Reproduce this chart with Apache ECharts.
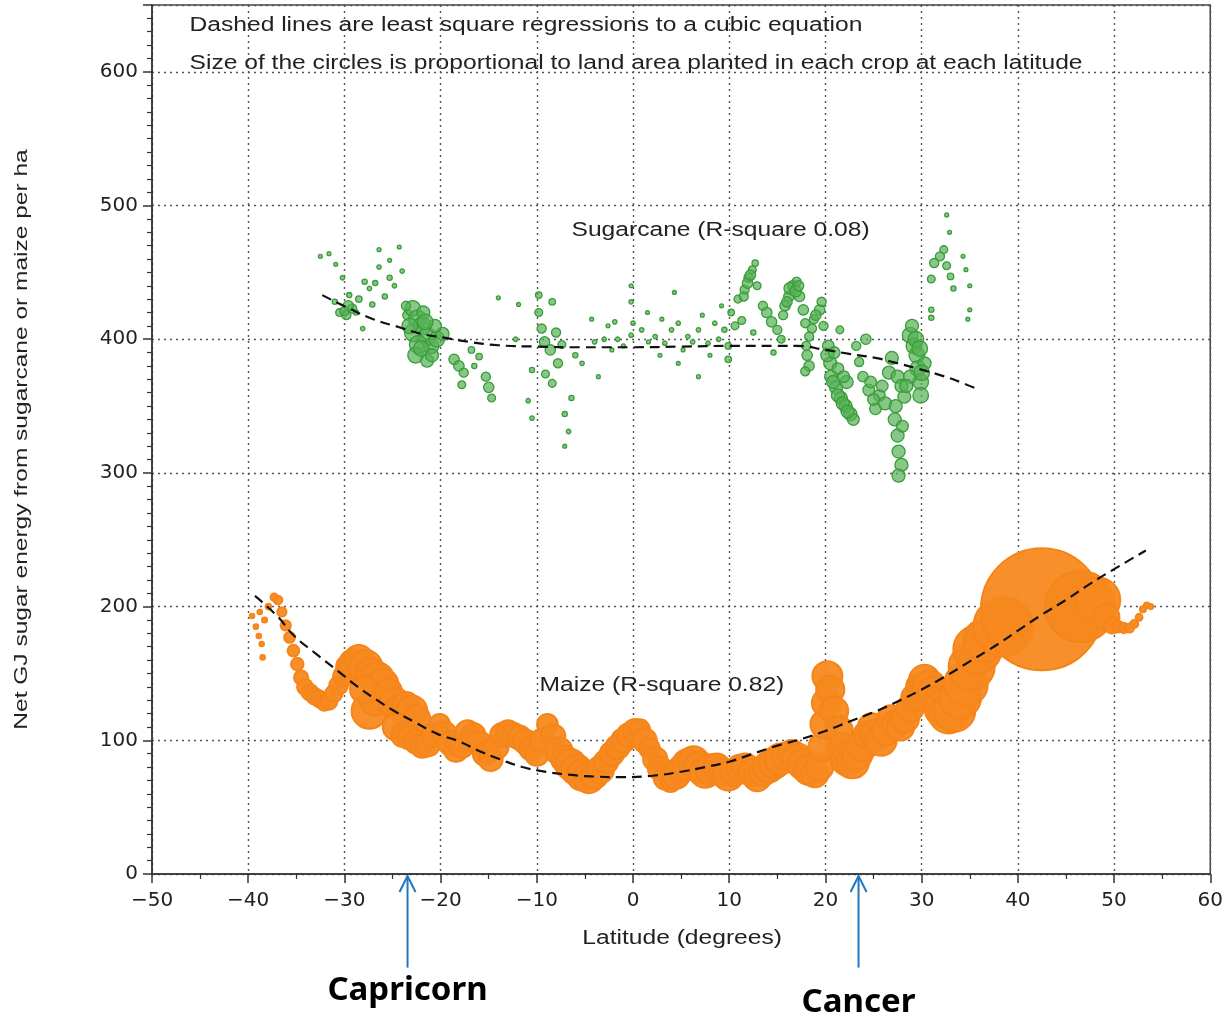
<!DOCTYPE html>
<html>
<head>
<meta charset="utf-8">
<script src="https://cdn.jsdelivr.net/npm/echarts@6/dist/echarts.min.js"></script>
<style>
  html, body { margin: 0; padding: 0; background: #fff; }
  #chart { width: 1226px; height: 1022px; }
</style>
</head>
<body>
<div id="chart"></div>
<script>
// [latitude, net GJ per ha, land area planted]
const sugarcanePoints = [
  [-32.5, 462, 9], [-31.6, 464, 9], [-30.9, 456, 9], [-30.2, 446, 12], [-29.5, 433, 16],
  [-28.8, 420, 16], [-27.4, 438, 12], [-26.4, 467, 9], [-26.4, 454, 12], [-25.3, 459, 9],
  [-24.3, 469, 9], [-24.0, 451, 12], [-25.3, 446, 16], [-27.1, 426, 16], [-28.1, 408, 12],
  [-31.0, 428, 16], [-30.5, 420, 36], [-29.8, 418, 49], [-29.2, 423, 49], [-28.5, 430, 25],
  [-27.9, 443, 16], [-26.8, 442, 16], [-25.8, 432, 16], [-24.8, 440, 12], [-29.6, 425, 64],
  [-30.0, 421, 49],
  [-23.4, 418, 64], [-22.9, 423, 144], [-22.4, 415, 196], [-22.8, 405, 196], [-21.9, 410, 196],
  [-21.4, 402, 196], [-22.3, 396, 196], [-21.0, 395, 144], [-22.6, 388, 144], [-21.4, 384, 100],
  [-20.4, 400, 144], [-19.8, 404, 100], [-20.6, 410, 100], [-21.8, 420, 100], [-23.2, 410, 144],
  [-22.0, 393, 144], [-21.6, 413, 144], [-20.9, 388, 100], [-23.6, 425, 49],
  [-18.6, 385, 64], [-18.1, 380, 64], [-17.6, 375, 49], [-17.8, 366, 36], [-16.8, 392, 25],
  [-16.0, 387, 25], [-15.3, 372, 49], [-15.0, 364, 64], [-14.7, 356, 36], [-16.5, 380, 16],
  [-14.0, 431, 9], [-11.9, 426, 9], [-12.2, 400, 12], [-10.5, 377, 16], [-9.8, 433, 25],
  [-9.8, 420, 36], [-9.5, 408, 49], [-9.2, 398, 64], [-8.6, 392, 64], [-8.4, 428, 25],
  [-7.8, 382, 49], [-9.1, 374, 36], [-8.4, 367, 36], [-6.4, 356, 16], [-7.1, 344, 16],
  [-6.7, 331, 12], [-7.1, 320, 9], [-10.5, 341, 12], [-10.9, 354, 12], [-8.0, 405, 49],
  [-7.4, 396, 36], [-6.0, 388, 16],
  [-5.3, 382, 12], [-4.3, 415, 9], [-3.6, 372, 9], [-1.9, 413, 12], [-0.2, 428, 12],
  [-0.2, 440, 9], [-0.2, 403, 12], [-1.6, 400, 12], [-2.2, 392, 9], [-2.6, 410, 9],
  [-3.0, 400, 12], [-4.0, 398, 12], [-1.0, 395, 9], [0.0, 412, 12],
  [0.9, 407, 12], [1.6, 398, 9], [2.3, 402, 12], [3.3, 397, 12], [4.0, 407, 12],
  [4.7, 412, 12], [5.7, 402, 12], [6.8, 407, 12], [7.8, 397, 12], [8.5, 412, 12],
  [9.5, 407, 16], [4.3, 435, 9], [6.8, 372, 9], [4.7, 382, 9], [9.2, 425, 9],
  [3.0, 415, 9], [5.2, 392, 9], [7.2, 418, 9], [8.0, 388, 9], [1.5, 420, 9],
  [2.8, 388, 9], [6.2, 398, 12], [8.9, 400, 12],
  [9.9, 395, 25], [10.2, 420, 25], [9.9, 385, 25], [10.6, 410, 36], [10.9, 430, 36],
  [11.6, 437, 49], [12.0, 446, 49], [12.4, 452, 36], [12.7, 457, 25], [11.3, 414, 36],
  [11.9, 442, 64], [12.2, 448, 64], [11.5, 432, 49], [12.9, 440, 36],
  [13.5, 425, 49], [13.9, 420, 64], [14.4, 413, 64], [15.0, 407, 49], [15.4, 400, 36],
  [15.8, 425, 64], [16.2, 432, 64], [16.6, 440, 64], [17.0, 443, 49], [17.3, 432, 64],
  [16.3, 438, 81], [16.9, 436, 81], [17.2, 440, 64], [16.0, 428, 64], [15.6, 418, 49],
  [17.7, 422, 64], [17.9, 412, 49], [18.6, 408, 49], [18.8, 415, 49], [19.4, 422, 64],
  [19.8, 410, 49], [18.1, 388, 64], [18.3, 380, 64], [14.6, 390, 16], [12.5, 405, 16],
  [18.3, 402, 49], [19.0, 418, 64], [19.6, 428, 49], [18.0, 395, 49], [17.9, 376, 49],
  [20.3, 395, 81], [20.5, 382, 100], [20.6, 372, 100], [21.1, 364, 100], [21.6, 356, 100],
  [22.1, 350, 100], [22.6, 344, 100], [22.9, 340, 81], [22.2, 368, 100], [21.3, 378, 81],
  [20.2, 388, 100], [20.8, 368, 100], [21.3, 358, 100], [21.8, 352, 100], [22.3, 346, 100],
  [20.9, 390, 81], [21.9, 372, 81],
  [21.5, 407, 36], [23.5, 383, 49], [24.2, 400, 64], [23.9, 372, 64], [24.5, 362, 81],
  [25.2, 348, 81], [25.6, 358, 81], [26.2, 352, 100], [26.6, 375, 100], [26.9, 386, 100],
  [23.2, 395, 49], [24.7, 368, 81], [25.0, 355, 81], [25.9, 365, 81],
  [27.5, 372, 100], [27.9, 365, 100], [28.2, 357, 100], [27.2, 340, 100], [27.5, 328, 100],
  [27.6, 316, 100], [27.9, 306, 100], [27.6, 298, 100], [28.8, 403, 144], [29.2, 395, 144],
  [29.5, 388, 144], [29.6, 378, 144], [29.9, 368, 144], [29.9, 358, 144], [28.8, 372, 100],
  [30.3, 382, 100], [29.0, 410, 100], [27.3, 350, 100], [28.0, 335, 81], [28.4, 365, 100],
  [29.4, 400, 144], [29.8, 393, 144], [30.0, 375, 144],
  [31.0, 445, 36], [31.3, 457, 49], [31.9, 462, 49], [32.3, 467, 36], [32.6, 455, 36],
  [33.0, 447, 25], [33.3, 438, 16], [31.0, 422, 16], [31.0, 416, 16], [32.6, 493, 9],
  [32.9, 480, 9], [34.3, 462, 9], [34.6, 452, 9], [35.0, 422, 9], [34.8, 415, 9], [35.0, 440, 9]
]

const maizePoints = [
  [-39.6, 193, 4], [-39.2, 185, 4], [-38.9, 178, 4], [-38.6, 172, 4], [-38.8, 196, 4],
  [-38.3, 190, 5], [-38.5, 162, 4], [-37.9, 200, 6], [-37.3, 207, 10], [-36.9, 205, 14],
  [-36.5, 196, 16], [-36.1, 186, 20], [-35.7, 177, 22], [-35.3, 167, 26], [-34.9, 157, 30],
  [-34.5, 147, 38], [-34.1, 140, 48], [-33.6, 136, 52], [-33.1, 133, 52], [-32.6, 131, 52],
  [-32.1, 128, 46], [-31.6, 129, 52], [-31.1, 135, 56], [-30.6, 141, 66], [-30.1, 148, 80],
  [-29.6, 155, 110], [-29.1, 158, 140], [-28.5, 160, 170], [-27.8, 155, 210], [-27.2, 150, 180],
  [-26.6, 146, 210], [-26.0, 142, 180], [-27.4, 122, 240], [-26.8, 130, 180], [-28.0, 138, 140],
  [-25.4, 136, 140], [-24.8, 128, 180], [-24.2, 124, 140], [-23.6, 126, 140], [-23.0, 122, 180],
  [-22.5, 116, 140], [-24.6, 110, 140], [-23.9, 104, 110], [-23.2, 102, 110], [-22.5, 99, 110],
  [-21.9, 96, 110], [-21.3, 97, 110], [-20.7, 104, 110], [-20.1, 112, 80], [-19.6, 105, 110],
  [-19.0, 98, 110], [-18.4, 93, 110], [-17.8, 96, 110], [-17.2, 106, 110], [-16.6, 104, 110],
  [-16.0, 98, 110], [-15.4, 90, 110], [-14.8, 86, 110], [-14.2, 95, 110], [-13.6, 104, 110],
  [-13.0, 106, 110], [-12.4, 104, 110], [-11.8, 102, 110], [-11.2, 99, 110], [-10.6, 94, 110],
  [-10.0, 90, 110], [-9.4, 100, 110], [-8.9, 112, 80], [-8.3, 103, 110], [-7.7, 92, 140],
  [-7.1, 86, 140], [-6.5, 82, 180], [-5.9, 78, 180], [-5.3, 74, 180], [-4.6, 72, 180],
  [-4.0, 74, 140], [-3.4, 78, 140], [-2.8, 84, 110], [-2.2, 90, 110], [-1.6, 95, 110],
  [-1.0, 100, 110], [-0.4, 104, 110], [0.2, 107, 110], [0.7, 108, 80], [1.2, 100, 110],
  [1.7, 94, 80], [2.3, 86, 110], [2.8, 79, 110], [3.4, 72, 110], [3.9, 69, 80],
  [4.5, 74, 140], [5.1, 79, 140], [5.7, 82, 180], [6.3, 84, 180], [6.9, 80, 180],
  [7.5, 76, 180], [8.1, 78, 180], [8.7, 80, 140], [9.3, 76, 140], [9.9, 74, 180],
  [10.5, 76, 140], [11.1, 79, 140], [11.7, 80, 140], [12.3, 76, 140], [12.9, 72, 140],
  [13.5, 76, 140], [14.1, 80, 180], [14.7, 83, 180], [15.3, 86, 180], [15.9, 88, 140],
  [16.5, 90, 140], [17.1, 86, 180], [17.7, 82, 180], [18.3, 78, 180], [18.9, 75, 140],
  [19.4, 80, 140], [19.7, 95, 150], [19.9, 112, 150], [20.1, 128, 160], [20.2, 148, 170],
  [20.5, 138, 150], [20.9, 122, 150], [21.4, 108, 140], [21.8, 94, 180], [22.3, 86, 210],
  [22.8, 84, 210], [23.3, 90, 180], [23.8, 96, 180], [24.3, 104, 140], [24.8, 110, 140],
  [25.3, 104, 180], [25.8, 100, 180], [26.3, 106, 140], [26.8, 116, 140], [27.3, 112, 140],
  [27.8, 110, 140], [28.3, 116, 140], [28.8, 124, 140], [29.3, 132, 140], [29.8, 140, 140],
  [30.3, 145, 180], [30.8, 140, 210], [31.3, 135, 210], [31.8, 128, 210], [32.3, 124, 280],
  [32.8, 120, 300], [33.4, 122, 330], [34.0, 132, 330], [34.6, 142, 360], [35.2, 155, 400],
  [35.8, 168, 440], [36.6, 175, 350], [38.5, 185, 680], [42.5, 198, 2813], [46.5, 200, 953],
  [48.3, 205, 383], [49.2, 192, 130], [49.8, 186, 50], [50.4, 185, 26],
  [51.0, 184, 20], [51.6, 184, 16], [52.1, 187, 12], [52.6, 192, 9], [53.0, 198, 7],
  [53.4, 201, 6], [53.8, 200, 5]
]

// cubic least-squares curves as drawn on the original
const sugarcaneFit = [
  [-32.3, 433], [-29.5, 423], [-27, 415], [-24.3, 409], [-22, 404], [-19.5, 401], [-17, 398],
  [-14, 395.5], [-10, 394.5], [-5.5, 394], [0, 394], [5, 394.5], [10, 395], [15, 395],
  [17, 395], [20, 392], [22.5, 389], [25.2, 386], [27.5, 382], [29.6, 378], [32, 373],
  [34, 368], [36, 362]
]

const maizeFit = [
  [-39.3, 208], [-37, 193], [-35.2, 178], [-33, 165], [-30.7, 152], [-28.6, 140], [-26.6, 130],
  [-24.6, 121], [-22.8, 114], [-20.4, 105], [-18, 99], [-16, 92], [-13.9, 86], [-11.5, 80],
  [-9.5, 77], [-7, 74.5], [-4.3, 73], [-1, 72.5], [2, 73.5], [5, 76.5], [7.5, 80], [10, 84],
  [12.5, 90], [15, 96], [17.5, 101], [20, 107], [22.5, 114], [25, 121], [27.5, 129], [30, 138],
  [32.5, 148], [35, 159], [37.5, 170], [40, 182], [42.5, 194], [45, 205], [47.5, 217],
  [50, 228], [53.3, 242]
]

const notes = [
  'Dashed lines are least square regressions to a cubic equation',
  'Size of the circles is proportional to land area planted in each crop at each latitude'
]
const tropics = [
  { name: 'Capricorn', lat: -23.44 },
  { name: 'Cancer', lat: 23.44 }
]

const FONT = 'DejaVu Sans'
const TEXT_FONT = '"Liberation Sans"'
const TEXT = '#222'
const WIDE = 1.23

const chart = echarts.init(document.getElementById('chart'))

const minus = (v) => (v < 0 ? '\u2212' + Math.abs(v) : String(v))

chart.setOption({
  animation: false,
  textStyle: { fontFamily: FONT, color: TEXT },
  grid: {
    left: 152, right: 13, top: 5, bottom: 148,
    show: true, borderColor: '#444', borderWidth: 1.5
  },
  xAxis: {
    type: 'value', min: -50, max: 60, interval: 10,
    axisLine: { lineStyle: { color: '#333', width: 1.5 } },
    axisTick: { length: 9, lineStyle: { color: '#333', width: 1.5 } },
    minorTick: { show: true, splitNumber: 2, length: 5, lineStyle: { color: '#333', width: 1.2 } },
    axisLabel: { fontSize: 20, color: TEXT, margin: 17, formatter: minus, fontFamily: FONT },
    splitLine: { show: true, lineStyle: { color: '#555', width: 1.4, type: [2, 4] } }
  },
  yAxis: {
    type: 'value', min: 0, max: 650, interval: 100,
    axisLine: { show: true, onZero: false, lineStyle: { color: '#333', width: 1.5 } },
    axisTick: { length: 9, lineStyle: { color: '#333', width: 1.5 } },
    minorTick: { show: true, splitNumber: 10, length: 5, lineStyle: { color: '#333', width: 1.2 } },
    axisLabel: {
      fontSize: 20, color: TEXT, margin: 14, fontFamily: FONT, showMaxLabel: false,
      formatter: (v) => (v > 600 ? '' : String(v))
    },
    splitLine: { show: true, lineStyle: { color: '#555', width: 1.4, type: [2, 4] } }
  },
  series: [
    {
      name: 'Sugarcane', type: 'scatter', data: sugarcanePoints,
      symbolSize: (d) => Math.sqrt(d[2]) * 1.3,
      itemStyle: {
        color: 'rgba(84,176,84,0.7)', borderColor: '#3a9c3a', borderWidth: 1.3, opacity: 1
      },
      z: 2
    },
    {
      name: 'Maize', type: 'scatter', data: maizePoints,
      symbolSize: (d) => Math.sqrt(d[2]) * 2.3,
      itemStyle: {
        color: 'rgba(247,137,31,0.95)', borderColor: '#f5851a', borderWidth: 2, opacity: 1
      },
      z: 2
    },
    {
      name: 'Sugarcane fit', type: 'line', data: sugarcaneFit, smooth: true, showSymbol: false,
      lineStyle: { color: '#111', width: 2.2, type: [10, 6] }, z: 4
    },
    {
      name: 'Maize fit', type: 'line', data: maizeFit, smooth: true, showSymbol: false,
      lineStyle: { color: '#111', width: 2.2, type: [10, 6] }, z: 4
    }
  ]
})

const px = (lat, v) => chart.convertToPixel({ gridIndex: 0 }, [lat, v])

const textEl = (str, p, opts) => ({
  type: 'text', x: p[0], y: p[1],
  scaleX: opts.scaleX || 1, rotation: opts.rotation || 0,
  style: {
    text: str, font: opts.font || '20px ' + TEXT_FONT, fill: opts.fill || TEXT,
    textAlign: opts.align || 'left', textVerticalAlign: 'middle'
  }
})

const graphics = []
notes.forEach((t, i) => {
  graphics.push(textEl(t, px(-46.1, i === 0 ? 635 : 606), { scaleX: WIDE }))
})
graphics.push(textEl('Sugarcane (R-square 0.08)', px(9.1, 481), { align: 'center', scaleX: WIDE }))
graphics.push(textEl('Maize (R-square 0.82)', px(3.0, 141), { align: 'center', scaleX: WIDE }))

// axis titles
graphics.push(textEl('Latitude (degrees)', px(5.1, -48), { align: 'center', scaleX: WIDE }))
const yTitle = px(-50, 325)
graphics.push(textEl('Net GJ sugar energy from sugarcane or maize per ha', [yTitle[0] - 130, yTitle[1]], {
  align: 'center', rotation: Math.PI / 2, scaleX: 1.29, font: '19px ' + TEXT_FONT
}))

tropics.forEach((tr, i) => {
  const top = px(tr.lat, -1.5)
  const bottom = px(tr.lat, -70)
  const label = px(tr.lat, i === 0 ? -87 : -96.5)
  graphics.push({
    type: 'line',
    shape: { x1: top[0], y1: top[1], x2: bottom[0], y2: bottom[1] },
    style: { stroke: '#1f78c1', lineWidth: 2 }
  })
  graphics.push({
    type: 'polyline',
    shape: { points: [[top[0] - 8, top[1] + 16], [top[0], top[1]], [top[0] + 8, top[1] + 16]] },
    style: { stroke: '#1f78c1', lineWidth: 2, fill: null }
  })
  graphics.push(textEl(tr.name, label, { align: 'center', font: 'bold 33px "Noto Sans"', fill: '#000' }))
})

chart.setOption({ graphic: graphics })
</script>
</body>
</html>
